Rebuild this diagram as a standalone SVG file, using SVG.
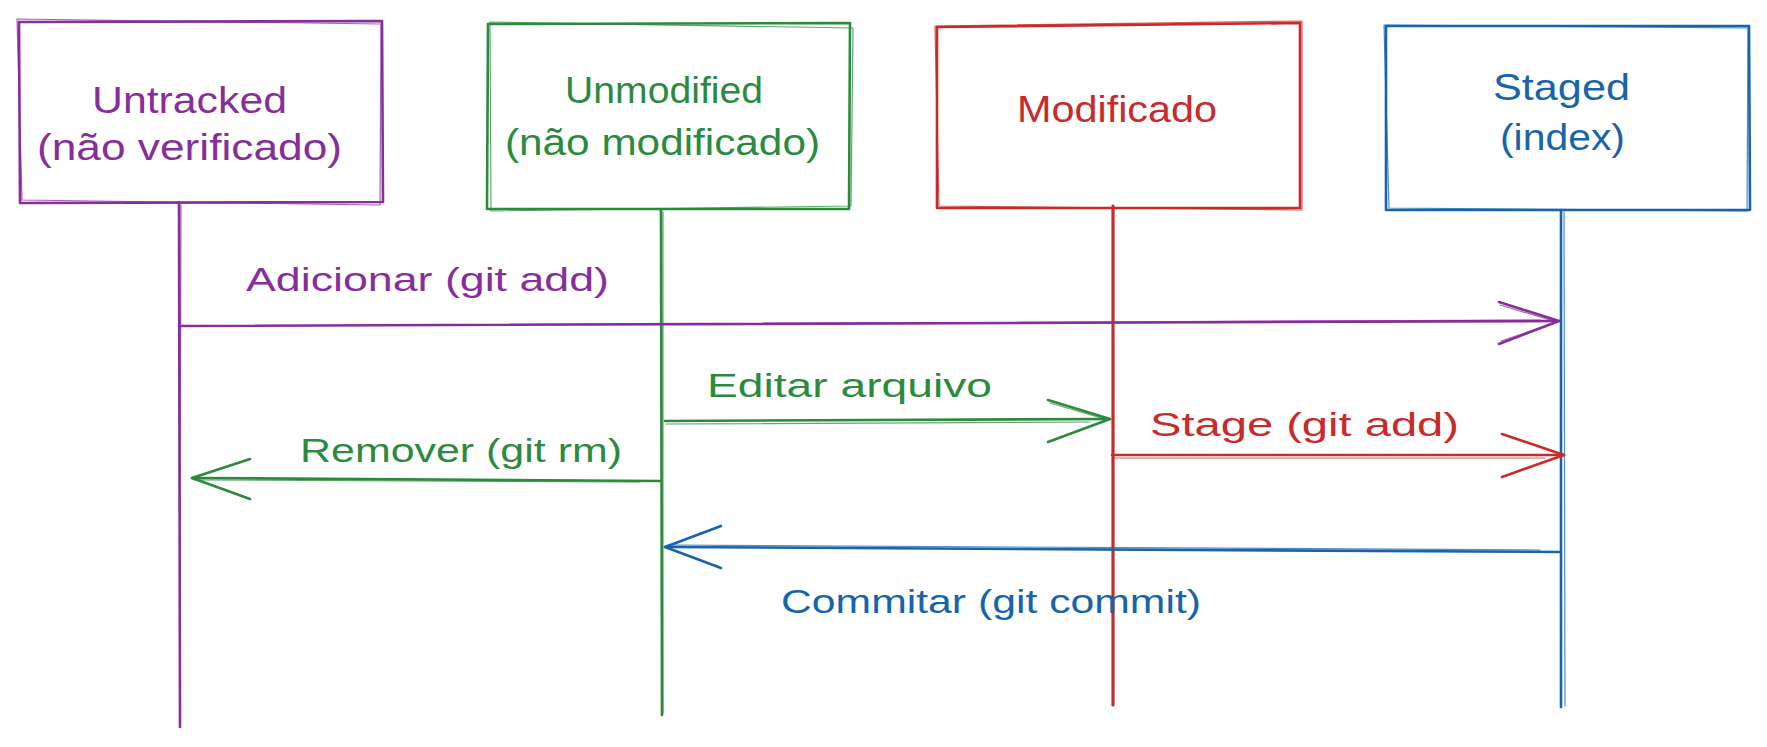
<svg xmlns="http://www.w3.org/2000/svg" width="1767" height="747" viewBox="0 0 1767 747">
<style>
.s{fill:none;stroke-linecap:round;stroke-linejoin:round}
.m{stroke-width:2.6}
.t{stroke-width:1.2;opacity:.75}
.p{stroke:#862e9c}.g{stroke:#2b8a3e}.r{stroke:#c92a2a}.b{stroke:#1864ab}
text{font-family:"Liberation Sans","Noto Sans",sans-serif}
.n{font-size:36px}.l{font-size:34px}
.fp{fill:#862e9c}.fg{fill:#2b8a3e}.fr{fill:#c92a2a}.fb{fill:#1864ab}
</style>
<rect width="1767" height="747" fill="#fff"/>
<g id="node-untracked">
<path class="s m p" d="M19 22 L382 21 L383 202 L20 203 Z"/>
<path class="s t p" d="M17 19 L381 24 L380 205 L22 200 Z"/>
<text class="n fp" x="92" y="113" textLength="195" lengthAdjust="spacingAndGlyphs">Untracked</text>
<text class="n fp" x="37" y="160" textLength="305" lengthAdjust="spacingAndGlyphs">(não verificado)</text>
</g>
<g id="node-unmodified">
<path class="s m g" d="M488 24 L850 23 L849 209 L487 209 Z"/>
<path class="s t g" d="M490 22 L853 28 L851 206 L491 211 Z"/>
<text class="n fg" x="565" y="103" textLength="198" lengthAdjust="spacingAndGlyphs">Unmodified</text>
<text class="n fg" x="505" y="155" textLength="315" lengthAdjust="spacingAndGlyphs">(não modificado)</text>
</g>
<g id="node-modificado">
<path class="s m r" d="M937 27 L1300 23 L1300 208 L937 208 Z"/>
<path class="s t r" d="M935 26 L1302 21 L1302 210 L939 206 Z"/>
<text class="n fr" x="1017" y="122" textLength="200" lengthAdjust="spacingAndGlyphs">Modificado</text>
</g>
<g id="node-staged">
<path class="s m b" d="M1386 26 L1749 26 L1750 210 L1386 210 Z"/>
<path class="s t b" d="M1384 25 L1748 28 L1747 211 L1389 208 Z"/>
<text class="n fb" x="1493" y="100" textLength="137" lengthAdjust="spacingAndGlyphs">Staged</text>
<text class="n fb" x="1500" y="150" textLength="125" lengthAdjust="spacingAndGlyphs">(index)</text>
</g>
<g id="connectors">
<path class="s m p" d="M179 202 L180 727"/>
<path class="s t p" d="M181 205 L180 520"/>
<path class="s m g" d="M661 209 L662 715"/>
<path class="s t g" d="M663 212 L663 713"/>
<path class="s r" stroke-width="3.2" d="M1113 206 L1113 705"/>
<path class="s m b" d="M1561 210 L1561 707"/>
<path class="s t b" d="M1564 212 L1565 706"/>

<path class="s m p" d="M181 326 L1559 321"/>
<path class="s t p" d="M400 325 L1540 320"/>
<path class="s m p" d="M1499 302 L1559 321 L1499 344"/>
<path class="s t p" d="M1500 305 L1557 322 L1501 341"/>
<text class="l fp" x="246" y="291" textLength="363" lengthAdjust="spacingAndGlyphs">Adicionar (git add)</text>

<path class="s m g" d="M665 421 L1110 419"/>
<path class="s t g" d="M666 424 L1090 422"/>
<path class="s m g" d="M1048 400 L1110 419 L1048 442"/>
<path class="s t g" d="M1050 403 L1108 420"/>
<text class="l fg" x="707" y="397" textLength="285" lengthAdjust="spacingAndGlyphs">Editar arquivo</text>

<path class="s m r" d="M1112 455 L1564 455"/>
<path class="s t r" d="M1113 458 L1545 458"/>
<path class="s m r" d="M1502 434 L1564 455 L1502 477"/>
<text class="l fr" x="1150" y="436" textLength="309" lengthAdjust="spacingAndGlyphs">Stage (git add)</text>

<path class="s m g" d="M661 481 L192 478"/>
<path class="s t g" d="M640 482 L195 480"/>
<path class="s m g" d="M250 459 L192 478 L250 499"/>
<text class="l fg" x="300" y="462" textLength="322" lengthAdjust="spacingAndGlyphs">Remover (git rm)</text>

<path class="s m b" d="M1561 552 L665 547"/>
<path class="s t b" d="M1540 550 L668 545"/>
<path class="s m b" d="M721 526 L665 547 L721 568"/>
<text class="l fb" x="781" y="613" textLength="420" lengthAdjust="spacingAndGlyphs">Commitar (git commit)</text>
</g>
</svg>
